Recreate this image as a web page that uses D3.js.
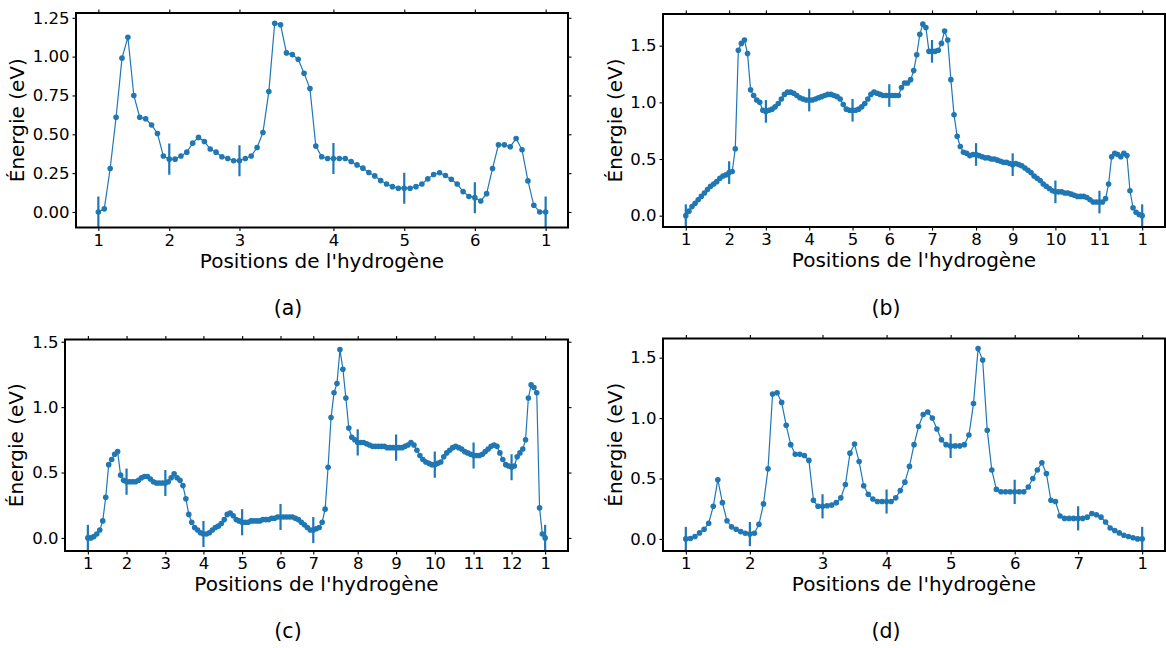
<!DOCTYPE html>
<html>
<head>
<meta charset="utf-8">
<script src="https://cdn.jsdelivr.net/npm/d3@7"></script>
<style>
  body { margin: 0; background: #fff; }
  svg { font-family: "DejaVu Sans", sans-serif; }
</style>
</head>
<body>
<svg id="chart" width="1166" height="648"></svg>
<script>
// positions of the hydrogen images along the path, and energies (eV) of each segment
// (each segment starts at its hydrogen position, the end point is the next one)
let posA = [0, 0.707, 1.407, 2.344, 3.050, 3.754, 4.460];
let labelsA = ["1", "2", "3", "4", "5", "6", "1"];
let energyA = [
    [0, 0.02, 0.28, 0.61, 0.99, 1.125, 0.75, 0.61, 0.60, 0.56, 0.505, 0.36],
    [0.34, 0.34, 0.36, 0.385, 0.443, 0.48, 0.454, 0.405, 0.385, 0.355, 0.344, 0.33],
    [0.33, 0.344, 0.36, 0.415, 0.512, 0.775, 1.215, 1.205, 1.024, 1.013, 0.983, 0.893, 0.794, 0.424, 0.355, 0.344],
    [0.344, 0.344, 0.344, 0.325, 0.303, 0.282, 0.254, 0.232, 0.202, 0.18, 0.163, 0.153],
    [0.153, 0.153, 0.163, 0.18, 0.213, 0.241, 0.252, 0.235, 0.211, 0.18, 0.131, 0.10],
    [0.092, 0.071, 0.118, 0.28, 0.432, 0.432, 0.42, 0.473, 0.40, 0.20, 0.043, 0.0],
    [0]
];

let posB = [0, 0.433, 0.800, 1.233, 1.666, 2.033, 2.460, 2.900, 3.266, 3.693, 4.133, 4.560];
let labelsB = ["1", "2", "3", "4", "5", "6", "7", "8", "9", "10", "11", "1"];
let energyB = [
    [0, 0.04, 0.08, 0.11, 0.14, 0.17, 0.20, 0.23, 0.26, 0.28, 0.30, 0.33, 0.35, 0.36],
    [0.38, 0.39, 0.59, 1.46, 1.52, 1.55, 1.43, 1.11, 1.06, 1.02, 1.00, 0.93],
    [0.92, 0.93, 0.94, 0.96, 0.99, 1.03, 1.07, 1.09, 1.09, 1.08, 1.06, 1.04, 1.03, 1.02],
    [1.02, 1.02, 1.03, 1.04, 1.05, 1.06, 1.07, 1.07, 1.06, 1.05, 1.03, 0.98, 0.94, 0.93],
    [0.93, 0.93, 0.94, 0.96, 0.99, 1.03, 1.07, 1.09, 1.08, 1.07, 1.06, 1.06],
    [1.06, 1.06, 1.06, 1.06, 1.13, 1.17, 1.17, 1.20, 1.28, 1.42, 1.60, 1.69, 1.66, 1.45],
    [1.45, 1.45, 1.46, 1.52, 1.63, 1.55, 1.20, 0.89, 0.70, 0.61, 0.56, 0.55, 0.53, 0.54],
    [0.54, 0.53, 0.52, 0.51, 0.51, 0.50, 0.50, 0.49, 0.48, 0.47, 0.47, 0.46],
    [0.45, 0.46, 0.45, 0.44, 0.42, 0.40, 0.38, 0.35, 0.33, 0.31, 0.28, 0.26, 0.24, 0.22],
    [0.21, 0.21, 0.21, 0.20, 0.20, 0.19, 0.18, 0.17, 0.17, 0.17, 0.16, 0.14, 0.12, 0.12],
    [0.12, 0.12, 0.15, 0.28, 0.52, 0.55, 0.54, 0.52, 0.55, 0.53, 0.22, 0.07, 0.03, 0.01],
    [0]
];

let posC = [0, 0.385, 0.771, 1.150, 1.535, 1.917, 2.243, 2.685, 3.067, 3.452, 3.838, 4.216, 4.550];
let labelsC = ["1", "2", "3", "4", "5", "6", "7", "8", "9", "10", "11", "12", "1"];
let energyC = [
    [0, 0, 0.01, 0.03, 0.06, 0.13, 0.31, 0.56, 0.60, 0.64, 0.66, 0.48, 0.44],
    [0.43, 0.43, 0.43, 0.43, 0.44, 0.46, 0.47, 0.47, 0.45, 0.43, 0.42, 0.42, 0.42],
    [0.42, 0.43, 0.46, 0.49, 0.46, 0.44, 0.40, 0.30, 0.18, 0.12, 0.08, 0.06, 0.04],
    [0.03, 0.03, 0.04, 0.06, 0.08, 0.09, 0.11, 0.14, 0.18, 0.19, 0.17, 0.14, 0.13],
    [0.12, 0.12, 0.12, 0.13, 0.13, 0.13, 0.13, 0.14, 0.14, 0.14, 0.15, 0.15, 0.16],
    [0.16, 0.16, 0.16, 0.16, 0.16, 0.15, 0.14, 0.12, 0.10, 0.08, 0.06],
    [0.06, 0.07, 0.08, 0.12, 0.22, 0.54, 0.92, 1.11, 1.18, 1.44, 1.29, 1.07, 0.84, 0.77, 0.75],
    [0.73, 0.73, 0.73, 0.72, 0.71, 0.70, 0.70, 0.70, 0.70, 0.70, 0.69, 0.69, 0.69],
    [0.69, 0.69, 0.69, 0.70, 0.71, 0.73, 0.71, 0.67, 0.63, 0.60, 0.58, 0.57, 0.56],
    [0.56, 0.57, 0.58, 0.62, 0.65, 0.67, 0.69, 0.70, 0.69, 0.68, 0.66, 0.65, 0.64],
    [0.63, 0.63, 0.63, 0.64, 0.66, 0.68, 0.70, 0.71, 0.70, 0.65, 0.60, 0.56, 0.55],
    [0.54, 0.55, 0.62, 0.65, 0.68, 0.75, 1.07, 1.17, 1.15, 1.11, 0.23, 0.03],
    [0]
];

let posD = [0, 0.640, 1.366, 2.006, 2.646, 3.286, 3.920, 4.560];
let labelsD = ["1", "2", "3", "4", "5", "6", "7", "1"];
let energyD = [
    [0, 0.003, 0.02, 0.05, 0.08, 0.13, 0.27, 0.49, 0.30, 0.15, 0.10, 0.08, 0.06, 0.047],
    [0.04, 0.047, 0.12, 0.29, 0.58, 1.20, 1.21, 1.13, 0.94, 0.78, 0.70, 0.70, 0.69, 0.65, 0.32, 0.27],
    [0.27, 0.275, 0.28, 0.30, 0.34, 0.45, 0.71, 0.785, 0.64, 0.44, 0.37, 0.33, 0.31, 0.31],
    [0.31, 0.31, 0.34, 0.40, 0.47, 0.60, 0.78, 0.93, 1.03, 1.05, 1.00, 0.91, 0.82, 0.78],
    [0.77, 0.77, 0.77, 0.78, 0.86, 1.12, 1.575, 1.48, 0.90, 0.57, 0.41, 0.39, 0.39, 0.39],
    [0.39, 0.39, 0.39, 0.43, 0.50, 0.57, 0.63, 0.54, 0.32, 0.31, 0.19, 0.17, 0.17, 0.17],
    [0.17, 0.17, 0.18, 0.21, 0.20, 0.18, 0.14, 0.09, 0.07, 0.05, 0.03, 0.02, 0.01, 0.0],
    [0]
];

let yTicksA = [0, 0.25, 0.5, 0.75, 1.0, 1.25];
let yTicksB = [0, 0.5, 1.0, 1.5];
let errBar = 0.1;

let blue = "#1f77b4";

//layout of the four panels
let panels = [
    {pos: posA, energy: energyA, labels: labelsA, yTicks: yTicksA, fmt: ".2f", tag: "(a)",
        box: {left: 76, right: 568, top: 13, bottom: 227.5}, yLabX: 24, tagX: 288, tagY: 315},
    {pos: posB, energy: energyB, labels: labelsB, yTicks: yTicksB, fmt: ".1f", tag: "(b)",
        box: {left: 663, right: 1165, top: 14, bottom: 227}, yLabX: 622, tagX: 886, tagY: 315},
    {pos: posC, energy: energyC, labels: labelsC, yTicks: yTicksB, fmt: ".1f", tag: "(c)",
        box: {left: 65, right: 568, top: 339.5, bottom: 551}, yLabX: 23, tagX: 288, tagY: 638},
    {pos: posD, energy: energyD, labels: labelsD, yTicks: yTicksB, fmt: ".1f", tag: "(d)",
        box: {left: 663, right: 1165, top: 338.5, bottom: 551}, yLabX: 622, tagX: 886, tagY: 638}
];

function buildPoints(pos, energy) {
    let pts = [];
    energy.forEach(function(seg, i) {
        let x0 = pos[i];
        let x1 = i + 1 < pos.length ? pos[i + 1] : pos[i];
        seg.forEach(function(e, k) {
            pts.push({x: x0 + (x1 - x0) * k / seg.length, y: e});
        });
    });
    return pts;
}

let svg = d3.select("#chart");

panels.forEach(function(p, idx) {
    let b = p.box;
    let L = p.pos[p.pos.length - 1];
    let points = buildPoints(p.pos, p.energy);
    let marks = p.pos.map((x, i) => ({x: x, y: p.energy[i][0]}));
    let yMax = d3.max(points, d => d.y);

    let x = d3.scaleLinear()
        .domain([-0.05 * L, 1.05 * L])
        .range([b.left, b.right]);

    let y = d3.scaleLinear()
        .domain([-errBar, yMax + 0.05 * (yMax + errBar)])
        .range([b.bottom, b.top]);

    let g = svg.append("g");

    g.append("clipPath")
        .attr("id", "clip" + idx)
        .append("rect")
        .attr("x", b.left)
        .attr("y", b.top)
        .attr("width", b.right - b.left)
        .attr("height", b.bottom - b.top);

    let plot = g.append("g").attr("clip-path", "url(#clip" + idx + ")");

    // error bars at each hydrogen position
    plot.selectAll(".err")
        .data(marks)
        .enter()
        .append("line")
        .attr("x1", d => x(d.x))
        .attr("x2", d => x(d.x))
        .attr("y1", d => y(d.y - errBar))
        .attr("y2", d => y(d.y + errBar))
        .attr("stroke", blue)
        .attr("stroke-width", 2.2);

    let line = d3.line().x(d => x(d.x)).y(d => y(d.y));

    plot.append("path")
        .datum(points)
        .attr("d", line)
        .attr("fill", "none")
        .attr("stroke", blue)
        .attr("stroke-width", 1.2);

    plot.selectAll(".pt")
        .data(points)
        .enter()
        .append("circle")
        .attr("cx", d => x(d.x))
        .attr("cy", d => y(d.y))
        .attr("r", 2.8)
        .attr("fill", blue);

    // axes
    let bottomAxis = d3.axisBottom(x)
        .tickValues(p.pos)
        .tickFormat((d, i) => p.labels[i])
        .tickSize(3.5).tickSizeOuter(0).tickPadding(3);
    let topAxis = d3.axisTop(x)
        .tickValues(p.pos).tickFormat("")
        .tickSize(3.5).tickSizeOuter(0);
    let leftAxis = d3.axisLeft(y)
        .tickValues(p.yTicks)
        .tickFormat(d3.format(p.fmt))
        .tickSize(3.5).tickSizeOuter(0).tickPadding(3);
    let rightAxis = d3.axisRight(y)
        .tickValues(p.yTicks).tickFormat("")
        .tickSize(3.5).tickSizeOuter(0);

    let axes = [
        g.append("g").attr("transform", "translate(0," + b.bottom + ")").call(bottomAxis),
        g.append("g").attr("transform", "translate(0," + b.top + ")").call(topAxis),
        g.append("g").attr("transform", "translate(" + b.left + ",0)").call(leftAxis),
        g.append("g").attr("transform", "translate(" + b.right + ",0)").call(rightAxis)
    ];
    axes.forEach(function(a) {
        a.select(".domain").remove();
        a.selectAll("line").attr("stroke", "#000").attr("stroke-width", 1.1);
        a.selectAll("text")
            .attr("fill", "#000")
            .style("font-family", "DejaVu Sans")
            .style("font-size", "16.5px");
    });

    g.append("rect")
        .attr("x", b.left)
        .attr("y", b.top)
        .attr("width", b.right - b.left)
        .attr("height", b.bottom - b.top)
        .attr("fill", "none")
        .attr("stroke", "#000")
        .attr("stroke-width", 2);

    g.append("text")
        .attr("x", (b.left + b.right) / 2)
        .attr("y", b.bottom + 40)
        .attr("text-anchor", "middle")
        .style("font-size", "20px")
        .text("Positions de l'hydrogène");

    g.append("text")
        .attr("transform", "translate(" + p.yLabX + "," + ((b.top + b.bottom) / 2) + ") rotate(-90)")
        .attr("text-anchor", "middle")
        .style("font-size", "20px")
        .text("Énergie (eV)");

    g.append("text")
        .attr("x", p.tagX)
        .attr("y", p.tagY)
        .attr("text-anchor", "middle")
        .style("font-size", "20.5px")
        .text(p.tag);
});
</script>
</body>
</html>
